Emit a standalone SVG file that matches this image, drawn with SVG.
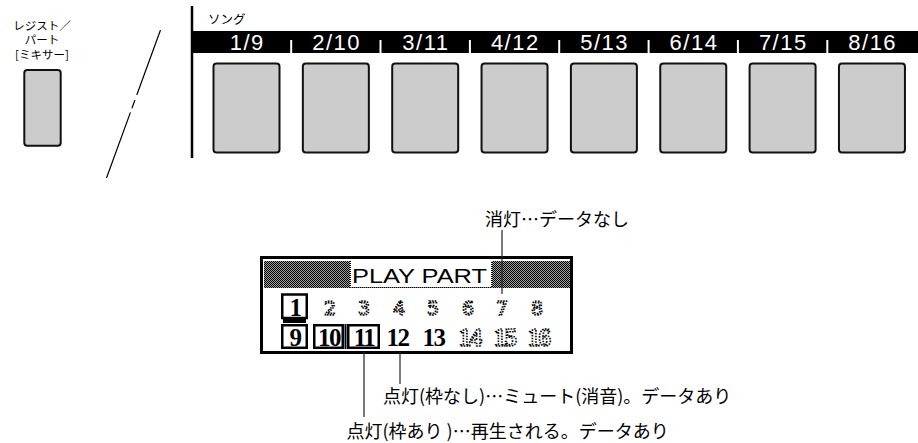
<svg xmlns="http://www.w3.org/2000/svg" width="918" height="443" viewBox="0 0 918 443">
<style>
.jp{font-family:"Noto Sans CJK JP","Noto Sans CJK SC",sans-serif;fill:#000}
.btn{fill:#cccccc;stroke:#111;stroke-width:2}
.lbl{font-family:"Liberation Sans",Arial,sans-serif;font-size:22px;fill:#fff;text-anchor:middle;letter-spacing:1.5px}
.tick{fill:#fff}
.on{font-family:"Liberation Serif","Times New Roman",serif;font-weight:bold;font-size:25px;text-anchor:middle;letter-spacing:-1.5px;fill:#000}
.off{font-family:"DejaVu Sans",sans-serif;font-size:19px;text-anchor:middle;fill:none;stroke:#000;stroke-width:1.6;stroke-dasharray:1.6 1.2}
.offb{font-family:"Liberation Serif",serif;font-weight:bold;font-size:25px;text-anchor:middle;letter-spacing:-1.5px;fill:none;stroke:#000;stroke-width:1.6;stroke-dasharray:1.6 1.2}
.box{fill:#fff;stroke:#000;stroke-width:2.5}
.conn{stroke:#222;stroke-width:1.2;fill:none}
</style>
<defs>
<pattern id="ht" width="2" height="2" patternUnits="userSpaceOnUse">
<rect width="2" height="2" fill="#a0a0a0"/>
<rect width="1" height="1" fill="#000"/>
<rect x="1" y="1" width="1" height="1" fill="#000"/>
</pattern>
</defs>
<rect width="918" height="443" fill="#fff"/>

<g id="register-part">
<text class="jp" font-size="11.5" x="42" y="29.5" text-anchor="middle">レジスト／</text>
<text class="jp" font-size="11.5" x="42" y="44" text-anchor="middle">パート</text>
<text class="jp" font-size="11.5" x="42" y="58.5" text-anchor="middle">[ミキサー]</text>
<rect class="btn" x="24.3" y="70" width="36.4" height="75.7" rx="3"/>
</g>

<g id="break-line">
<line x1="160.5" y1="30" x2="106.5" y2="178" stroke="#000" stroke-width="1.2" stroke-dasharray="69.2 5.3 8.9 4.3 80"/>
</g>

<g id="song">
<line x1="192" y1="6" x2="192" y2="158" stroke="#000" stroke-width="2.5"/>
<text class="jp" font-size="12.5" x="208" y="24">ソング</text>
<rect x="192" y="31" width="726" height="22" fill="#000"/>
<rect class="tick" x="290.2" y="40" width="2" height="13"/>
<rect class="tick" x="379.5" y="40" width="2" height="13"/>
<rect class="tick" x="468.9" y="40" width="2" height="13"/>
<rect class="tick" x="558.2" y="40" width="2" height="13"/>
<rect class="tick" x="647.6" y="40" width="2" height="13"/>
<rect class="tick" x="736.9" y="40" width="2" height="13"/>
<rect class="tick" x="826.3" y="40" width="2" height="13"/>
</g>
<g id="song-1"><text class="lbl" x="247.2" y="50">1/9</text><rect class="btn" x="213.5" y="63.5" width="66" height="89" rx="3"/></g>
<g id="song-2"><text class="lbl" x="336.6" y="50">2/10</text><rect class="btn" x="302.85" y="63.5" width="66" height="89" rx="3"/></g>
<g id="song-3"><text class="lbl" x="425.9" y="50">3/11</text><rect class="btn" x="392.2" y="63.5" width="66" height="89" rx="3"/></g>
<g id="song-4"><text class="lbl" x="515.3" y="50">4/12</text><rect class="btn" x="481.55" y="63.5" width="66" height="89" rx="3"/></g>
<g id="song-5"><text class="lbl" x="604.6" y="50">5/13</text><rect class="btn" x="570.9" y="63.5" width="66" height="89" rx="3"/></g>
<g id="song-6"><text class="lbl" x="694" y="50">6/14</text><rect class="btn" x="660.25" y="63.5" width="66" height="89" rx="3"/></g>
<g id="song-7"><text class="lbl" x="783.3" y="50">7/15</text><rect class="btn" x="749.6" y="63.5" width="66" height="89" rx="3"/></g>
<g id="song-8"><text class="lbl" x="872.7" y="50">8/16</text><rect class="btn" x="838.95" y="63.5" width="66" height="89" rx="3"/></g>

<g id="lcd">
<rect x="261.5" y="257.5" width="310" height="95" fill="#fff" stroke="#000" stroke-width="3"/>
<rect x="264" y="261" width="306" height="27" fill="url(#ht)"/>
<rect x="350" y="261" width="142" height="26.5" fill="#fff"/>
<path d="M350.5 261 V287.5 H491.5 V261" fill="none" stroke="#000" stroke-width="1" stroke-dasharray="1 1"/>
<text x="352" y="283" font-family="'Liberation Sans',Arial,sans-serif" font-size="20" textLength="135" lengthAdjust="spacingAndGlyphs" fill="#000">PLAY PART</text>
<rect class="box" x="282.25" y="294.5" width="24.5" height="23.5"/>
<rect x="283" y="319" width="23" height="4" fill="#000"/>
<text class="on" x="295" y="315.5">1</text>
<text class="off" x="330" y="314.5">2</text>
<text class="off" x="364" y="314.5">3</text>
<text class="off" x="399" y="314.5">4</text>
<text class="off" x="433" y="314.5">5</text>
<text class="off" x="468" y="314.5">6</text>
<text class="off" x="502" y="314.5">7</text>
<text class="off" x="537" y="314.5">8</text>
<rect class="box" x="282.25" y="325.25" width="24.5" height="22.5"/>
<rect class="box" x="314.25" y="325.25" width="28.5" height="22.5"/>
<rect class="box" x="348.25" y="325.25" width="30.5" height="22.5"/>
<rect x="344.5" y="324" width="2" height="25" fill="#000"/>
<text class="on" x="295" y="346">9</text>
<text class="on" x="329" y="346">10</text>
<text class="on" x="364" y="346">11</text>
<text class="on" x="397.5" y="346">12</text>
<text class="on" x="433.5" y="346">13</text>
<text class="offb" x="469.5" y="346">14</text>
<text class="offb" x="504.5" y="346">15</text>
<text class="offb" x="538.5" y="346">16</text>
</g>

<g id="connectors">
<line class="conn" x1="502" y1="230" x2="502" y2="294"/>
<line class="conn" x1="364" y1="352" x2="364" y2="417"/>
<line class="conn" x1="400" y1="352" x2="400" y2="384"/>
</g>

<g id="labels">
<text class="jp" font-size="18" x="485" y="226">消灯…データなし</text>
<text class="jp" font-size="18" x="383" y="403">点灯(枠なし)…ミュート(消音)。データあり</text>
<text class="jp" font-size="18" x="346.5" y="438">点灯(枠あり )…再生される。データあり</text>
</g>
</svg>
